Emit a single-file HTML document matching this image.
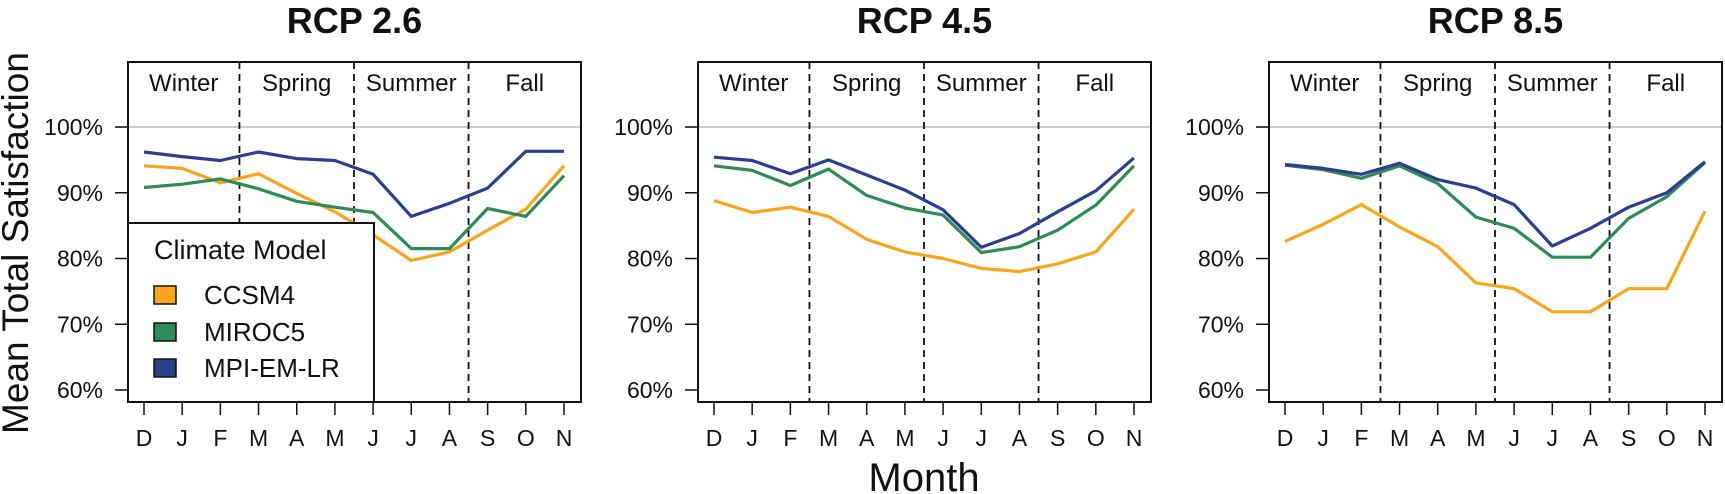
<!DOCTYPE html>
<html><head><meta charset="utf-8"><style>
html,body{margin:0;padding:0;background:#fff;}
svg{display:block;font-family:"Liberation Sans",Arial,sans-serif;}
</style></head><body>
<svg id="chart" width="1725" height="494" viewBox="0 0 1725 494" xmlns="http://www.w3.org/2000/svg">
<text x="0" y="0" transform="translate(28,243) rotate(-90)" font-size="37" text-anchor="middle" fill="#111">Mean Total Satisfaction</text>
<text x="924" y="491" font-size="40" text-anchor="middle" fill="#111">Month</text>
</svg>
<script>
const months = ["D","J","F","M","A","M","J","J","A","S","O","N"];
const yTicks = [60,70,80,90,100];
const yTickLabels = ["60%","70%","80%","90%","100%"];
const seasons = ["Winter","Spring","Summer","Fall"];
const panelTitles = ["RCP 2.6","RCP 4.5","RCP 8.5"];
const models = ["CCSM4","MIROC5","MPI-EM-LR"];
const modelColors = ["#F8A51C","#2E8B57","#2B3F8E"];
const rcp26_ccsm4 = [94.1,93.7,91.5,92.9,89.9,87.1,83.6,79.7,81.0,84.3,87.5,94.1];
const rcp26_miroc5 = [90.8,91.3,92.1,90.6,88.7,87.8,87.0,81.5,81.5,87.6,86.4,92.6];
const rcp26_mpi = [96.2,95.5,94.9,96.2,95.2,94.9,92.8,86.4,88.4,90.7,96.3,96.3];
const rcp45_ccsm4 = [88.8,87.0,87.8,86.4,82.9,81.0,80.0,78.5,78.0,79.2,81.0,87.5];
const rcp45_miroc5 = [94.1,93.4,91.1,93.6,89.6,87.7,86.6,80.9,81.8,84.3,88.1,94.1];
const rcp45_mpi = [95.4,94.9,92.9,95.0,92.7,90.4,87.4,81.7,83.8,87.1,90.3,95.3];
const rcp85_ccsm4 = [82.6,85.2,88.2,84.8,81.8,76.3,75.4,71.9,71.9,75.4,75.4,87.2];
const rcp85_miroc5 = [94.2,93.5,92.2,94.1,91.4,86.3,84.6,80.2,80.2,86.1,89.4,94.6];
const rcp85_mpi = [94.3,93.7,92.8,94.5,92.0,90.7,88.2,81.9,84.6,87.8,90.0,94.7];

const panelData = [[rcp26_ccsm4,rcp26_miroc5,rcp26_mpi],[rcp45_ccsm4,rcp45_miroc5,rcp45_mpi],[rcp85_ccsm4,rcp85_miroc5,rcp85_mpi]];
const boxLefts = [128,698,1269];
const svg = document.getElementById('chart');
const NS = "http://www.w3.org/2000/svg";
function mk(tag, attrs, parent){const e=document.createElementNS(NS,tag);for(const k in attrs)e.setAttribute(k,attrs[k]);(parent||svg).appendChild(e);return e;}
const boxW = 453, boxTop = 62, boxBot = 402;
function yScale(v){return 127 + (100 - v) * 6.575;}

panelData.forEach((series, p) => {
  const L = boxLefts[p], R = L + boxW;
  const x0 = L + 16, step = (boxW - 33) / 11;
  const xScale = i => x0 + i * step;
  const g = mk('g', {});
  
  
  const t = mk('text', {x: (L+R)/2, y: 33, 'font-size': 36, 'font-weight': 'bold', 'text-anchor': 'middle', fill: '#111'}, g);
  t.textContent = panelTitles[p];
  
  
  const ref = mk('line', {x1: L-12, x2: R, y1: yScale(100), y2: yScale(100), stroke: '#bbb', 'stroke-width': 1.5}, g);
  
  
  [2.5, 5.5, 8.5].forEach(b => {
    const d = mk('line', {x1: xScale(b), x2: xScale(b), y1: boxTop, y2: boxBot, stroke: '#111', 'stroke-width': 1.8, 'stroke-dasharray': '7,5'}, g);
    
    
  });
  const segs = [L, xScale(2.5), xScale(5.5), xScale(8.5), R];
  seasons.forEach((s, i) => {
    const st = mk('text', {x: (segs[i]+segs[i+1])/2, y: 91, 'font-size': 24, 'text-anchor': 'middle', fill: '#111'}, g);
    st.textContent = s;
    
    
  });
  yTicks.forEach((v, i) => {
    const tk = mk('line', {x1: L-13, x2: L, y1: yScale(v), y2: yScale(v), stroke: '#111', 'stroke-width': 1.5}, g);
    
    
    const tl = mk('text', {x: L-25, y: yScale(v)+8, 'font-size': 23, 'text-anchor': 'end', fill: '#111'}, g);
    tl.textContent = yTickLabels[i];
    
    
  });
  months.forEach((m, i) => {
    const tk = mk('line', {x1: xScale(i), x2: xScale(i), y1: boxBot, y2: boxBot+13, stroke: '#111', 'stroke-width': 1.5}, g);
    
    
    const tl = mk('text', {x: xScale(i), y: 446, 'font-size': 23, 'text-anchor': 'middle', fill: '#111'}, g);
    tl.textContent = m;
    
    
  });
  series.forEach((vals, k) => {
    const pts = vals.map((v, i) => xScale(i).toFixed(1) + ',' + yScale(v).toFixed(1)).join(' ');
    const pl = mk('polyline', {points: pts, fill: 'none', stroke: modelColors[k], 'stroke-width': 3.2, 'stroke-linejoin': 'round'}, g);
    
    
  });
  const box = mk('rect', {x: L, y: boxTop, width: boxW, height: boxBot-boxTop, fill: 'none', stroke: '#111', 'stroke-width': 2}, g);
  
  
});

const lg = mk('g', {});


mk('rect', {x: 128, y: 223, width: 246, height: 179, fill: '#fff', stroke: '#111', 'stroke-width': 2}, lg);
const lt = mk('text', {x: 154, y: 259, 'font-size': 27, fill: '#111'}, lg);
lt.textContent = 'Climate Model';


const rowY = [295, 332, 368];
models.forEach((m, k) => {
  const sq = mk('rect', {x: 154, y: rowY[k]-9, width: 22, height: 18, fill: modelColors[k], stroke: '#111', 'stroke-width': 1.5}, lg);
  
  
  const tx = mk('text', {x: 204, y: rowY[k]+9, 'font-size': 26, fill: '#111'}, lg);
  tx.textContent = m;
  
  
});
</script>
</body></html>
